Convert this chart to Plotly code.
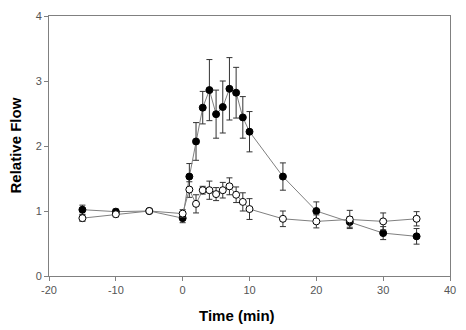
import plotly.graph_objects as go

time_filled = [-15, -10, -5, 0, 1, 2, 3, 4, 5, 6, 7, 8, 9, 10, 15, 20, 25, 30, 35]
flow_filled = [1.02, 0.99, 1.0, 0.89, 1.53, 2.07, 2.59, 2.86, 2.49, 2.60, 2.88, 2.82, 2.44, 2.22, 1.53, 1.00, 0.83, 0.66, 0.61]
err_filled = [0.07, 0.04, 0.03, 0.07, 0.20, 0.29, 0.25, 0.47, 0.37, 0.40, 0.48, 0.39, 0.32, 0.31, 0.21, 0.14, 0.08, 0.10, 0.12]

time_open = [-15, -10, -5, 0, 1, 2, 3, 4, 5, 6, 7, 8, 9, 10, 15, 20, 25, 30, 35]
flow_open = [0.89, 0.95, 1.0, 0.96, 1.33, 1.11, 1.32, 1.32, 1.26, 1.32, 1.38, 1.25, 1.14, 1.03, 0.88, 0.84, 0.87, 0.84, 0.88]
err_open = [0.05, 0.04, 0.02, 0.06, 0.12, 0.14, 0.06, 0.14, 0.10, 0.12, 0.13, 0.12, 0.14, 0.16, 0.12, 0.10, 0.14, 0.13, 0.11]

x_ticks = [-20, -10, 0, 10, 20, 30, 40]
x_tick_labels = ["-20", "-10", "0", "10", "20", "30", "40"]
y_ticks = [0, 1, 2, 3, 4]
y_tick_labels = ["0", "1", "2", "3", "4"]

fig = go.Figure()
fig.add_trace(go.Scatter(
    x=time_filled, y=flow_filled, mode="lines+markers",
    line=dict(color="#808080", width=1),
    marker=dict(color="black", size=7, line=dict(color="black", width=1)),
    error_y=dict(type="data", array=err_filled, color="#333333", thickness=1, width=3),
))
fig.add_trace(go.Scatter(
    x=time_open, y=flow_open, mode="lines+markers",
    line=dict(color="#808080", width=1),
    marker=dict(color="white", size=7, line=dict(color="black", width=1)),
    error_y=dict(type="data", array=err_open, color="#333333", thickness=1, width=3),
))

axis_common = dict(showgrid=False, zeroline=False, showline=True, linecolor="#808080",
                   linewidth=1, mirror=True, ticks="outside", ticklen=4, tickcolor="#808080",
                   tickfont=dict(family="Liberation Sans, Arial", size=11, color="#555555"))

fig.update_xaxes(range=[-20, 40], tickvals=x_ticks, ticktext=x_tick_labels, **axis_common)
fig.update_yaxes(range=[0, 4], tickvals=y_ticks, ticktext=y_tick_labels, **axis_common)

fig.update_layout(
    width=466, height=330,
    margin=dict(l=49, r=10, t=13, b=54),
    plot_bgcolor="white", paper_bgcolor="white",
    showlegend=False,
    annotations=[
        dict(text="<b>Time (min)</b>", xref="paper", yref="paper", x=(240 - 49) / 407, y=-40 / 263,
             xanchor="center", yanchor="middle", showarrow=False,
             font=dict(family="Liberation Sans, Arial", size=15, color="black")),
        dict(text="<b>Relative Flow</b>", xref="paper", yref="paper", x=-35 / 407, y=0.5,
             xanchor="center", yanchor="middle", showarrow=False, textangle=-90,
             font=dict(family="Liberation Sans, Arial", size=15, color="black")),
    ],
)

fig.write_html("out.html")
